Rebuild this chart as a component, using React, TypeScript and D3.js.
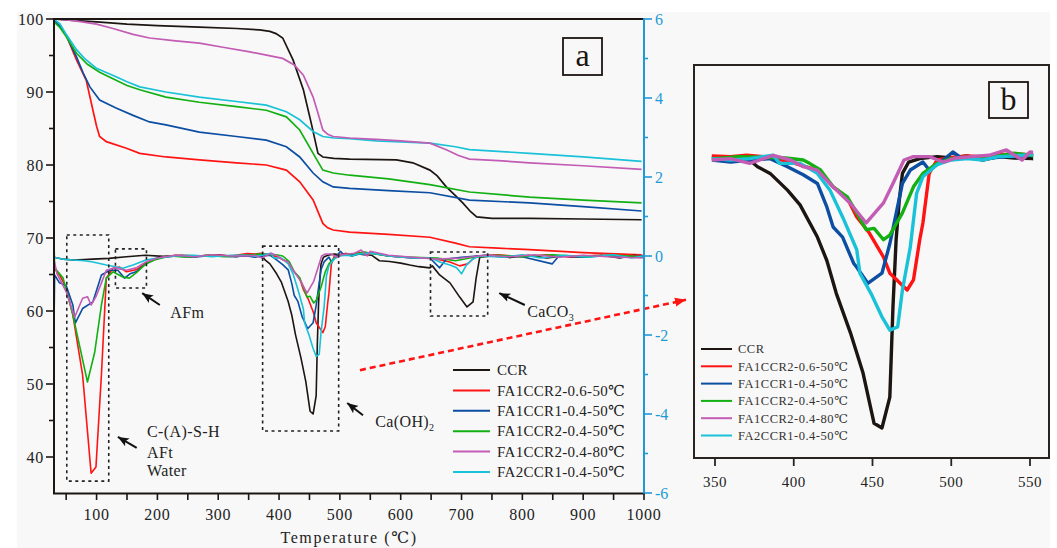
import * as d3 from "d3";

type Pt = [number, number];

// TG curves (mass %, left axis)
const tgCCR: Pt[] = [[30,100],[60,99.8],[100,99.6],[150,99.3],[200,99.1],[269,98.9],[330,98.7],[368,98.5],[385,98.3],[395,98.0],[406,97.4],[423,94.4],[440,90.3],[453,85.7],[464,81.6],[472,81.1],[490,80.9],[516,80.8],[593,80.7],[620,80.3],[648,79.3],[660,78.5],[675,77.0],[690,75.8],[702,74.8],[715,73.6],[725,72.9],[750,72.7],[812,72.7],[900,72.6],[996,72.5]];
const tgR06: Pt[] = [[30,99.8],[40,99.0],[50,97.8],[67,94.4],[83,91.6],[94,87.5],[100,85.3],[105,83.9],[116,83.2],[149,82.3],[171,81.6],[214,81.1],[269,80.7],[330,80.3],[379,80.0],[412,79.3],[434,77.7],[456,75.2],[472,72.0],[480,71.4],[489,71.1],[516,70.8],[580,70.5],[648,70.1],[690,69.3],[713,68.8],[760,68.6],[812,68.4],[900,68.0],[996,67.7]];
const tgB04: Pt[] = [[30,99.8],[40,99.0],[50,97.8],[67,94.8],[78,92.6],[89,90.7],[105,88.9],[132,87.8],[160,86.8],[187,85.9],[214,85.5],[269,84.5],[330,83.9],[379,83.4],[412,82.5],[434,81.1],[456,78.9],[472,77.7],[489,77.0],[516,76.8],[580,76.5],[648,76.2],[713,75.2],[812,74.8],[900,74.3],[996,73.7]];
const tgG04: Pt[] = [[30,99.6],[40,98.8],[50,97.6],[67,95.3],[85,93.8],[105,92.7],[132,91.6],[150,90.9],[171,90.3],[214,89.3],[269,88.6],[330,88.0],[379,87.5],[412,86.6],[434,84.8],[456,81.6],[472,79.3],[489,78.9],[516,78.6],[580,78.1],[648,77.3],[713,76.3],[812,75.6],[900,75.2],[996,74.8]];
const tgM80: Pt[] = [[30,100],[60,99.8],[100,99.3],[127,98.7],[160,97.9],[187,97.4],[230,97.0],[269,96.7],[310,96.1],[352,95.5],[406,94.6],[425,93.7],[440,92.3],[456,89.3],[465,86.8],[472,84.8],[480,84.2],[489,83.9],[516,83.7],[560,83.5],[600,83.3],[648,83.0],[675,82.1],[695,81.3],[713,80.8],[760,80.6],[812,80.3],[900,79.9],[996,79.4]];
const tgC21: Pt[] = [[30,100],[40,99.3],[50,97.9],[67,95.8],[80,94.6],[99,93.3],[115,92.7],[132,92.1],[150,91.4],[171,90.7],[214,90.0],[269,89.3],[330,88.7],[379,88.2],[412,87.3],[434,86.2],[456,84.6],[472,83.9],[490,83.7],[516,83.6],[560,83.3],[648,83.0],[690,82.5],[713,82.1],[812,81.6],[900,81.1],[996,80.5]];

// DTG curves (right axis)
const dtgCCR: Pt[] = [[30,-0.03],[45,-0.08],[61,-0.1],[80,-0.09],[94,-0.08],[120,-0.06],[149,-0.02],[180,0.02],[210,-0.01],[240,0.02],[270,0],[300,0.03],[330,-0.02],[350,0.05],[360,0.03],[372,0],[377,-0.1],[385,-0.2],[396,-0.45],[404,-0.67],[415,-1.15],[421,-1.5],[427,-1.99],[436,-2.58],[444,-3.18],[451,-3.93],[456,-4.0],[461,-3.54],[463,-2.19],[465,-1.19],[467,-0.6],[469,-0.2],[473,-0.03],[480,0.02],[491,0.05],[500,0.03],[510,0.06],[520,0],[530,0.05],[540,0.03],[552,0.02],[565,-0.12],[582,-0.14],[600,-0.18],[615,-0.23],[630,-0.27],[648,-0.3],[652,-0.25],[664,-0.48],[681,-0.68],[697,-1.04],[709,-1.29],[719,-1.16],[724,-0.56],[730,-0.03],[750,0],[780,-0.04],[810,0.02],[840,-0.05],[870,0],[900,-0.03],[930,0.02],[960,-0.05],[985,0.02],[998,-0.03]];
const dtgR06: Pt[] = [[30,-0.3],[39,-0.48],[50,-0.8],[61,-1.49],[77,-3.01],[91,-5.5],[99,-5.34],[108,-3.0],[116,-0.56],[127,-0.31],[138,-0.28],[149,-0.4],[165,-0.35],[181,-0.18],[200,-0.05],[230,0.02],[260,-0.02],[290,0.03],[320,0],[348,0.06],[360,0.05],[370,0.07],[385,0.04],[398,-0.03],[415,-0.15],[425,-0.4],[434,-0.57],[440,-0.85],[448,-1.09],[457,-1.45],[461,-1.69],[472,-1.94],[476,-1.79],[480,-1.19],[482,-0.94],[486,-0.2],[491,0],[500,0.04],[510,0.06],[520,0.05],[530,0.08],[540,0.09],[550,0.08],[580,0],[620,-0.05],[650,-0.05],[681,-0.15],[697,-0.25],[710,-0.2],[724,0],[760,0.03],[800,-0.02],[840,0.03],[880,-0.03],[920,0.02],[960,-0.02],[998,0.02]];
const dtgB04: Pt[] = [[30,-1.82],[31,-0.48],[39,-0.68],[50,-0.75],[61,-1.24],[65,-1.7],[77,-1.33],[94,-1.16],[108,-0.48],[122,-0.36],[135,-0.36],[146,-0.56],[155,-0.45],[165,-0.4],[181,-0.2],[200,-0.05],[230,0],[260,-0.03],[290,0.02],[320,-0.02],[348,0],[360,-0.03],[372,0],[385,0.02],[396,-0.1],[406,-0.22],[415,-0.35],[421,-0.7],[425,-1.0],[431,-1.15],[438,-1.54],[440,-1.6],[447,-1.84],[456,-1.69],[461,-1.25],[469,-0.35],[474,-0.15],[482,-0.03],[486,-0.15],[495,0],[501,0.12],[507,0.02],[515,0.05],[525,0.03],[535,0.05],[545,0.05],[552,0.08],[580,0],[620,-0.05],[648,-0.05],[664,-0.3],[675,-0.08],[700,-0.03],[740,0.02],[800,-0.02],[849,-0.2],[860,0],[900,-0.03],[940,0.02],[970,-0.03],[998,0]];
const dtgG04: Pt[] = [[30,0.4],[31,-0.3],[45,-0.56],[61,-1.49],[85,-3.19],[97,-2.43],[108,-1.24],[116,-0.56],[127,-0.4],[143,-0.53],[154,-0.56],[165,-0.43],[181,-0.2],[195,-0.1],[220,0],[250,-0.03],[280,0.02],[310,-0.02],[340,0.02],[350,0.02],[365,0.05],[380,0.04],[395,0.03],[406,0],[410,-0.05],[417,-0.15],[425,-0.4],[434,-0.55],[440,-0.79],[446,-1.04],[451,-1.02],[457,-1.19],[461,-1.12],[469,-0.79],[476,-0.4],[482,-0.2],[491,-0.05],[500,0.02],[515,0.05],[530,0.06],[540,0.1],[550,0.07],[580,0],[620,-0.03],[660,-0.05],[690,-0.12],[720,-0.03],[760,0.02],[800,-0.02],[850,0.03],[900,-0.02],[950,0.02],[998,-0.02]];
const dtgM80: Pt[] = [[30,-0.1],[35,-0.45],[50,-0.9],[64,-1.55],[77,-1.07],[85,-1.03],[91,-1.24],[99,-1.03],[108,-0.68],[116,-0.36],[130,-0.3],[149,-0.36],[165,-0.3],[181,-0.15],[200,-0.05],[230,0.02],[260,-0.02],[290,0.03],[320,0],[348,0],[360,0.02],[372,-0.05],[387,0.07],[398,0],[406,-0.1],[415,-0.15],[425,-0.4],[436,-0.65],[446,-0.94],[457,-0.64],[463,-0.35],[470,0],[476,0.05],[486,0.05],[495,-0.03],[503,0.03],[513,0.05],[524,0.07],[535,0.15],[545,0],[550,0.12],[580,0.02],[620,-0.03],[660,-0.08],[700,-0.05],[740,0.02],[780,-0.02],[820,0.03],[860,-0.03],[900,0.02],[940,-0.02],[998,-0.05]];
const dtgC21: Pt[] = [[30,-0.03],[45,-0.08],[61,-0.1],[80,-0.12],[94,-0.15],[116,-0.23],[143,-0.31],[160,-0.23],[181,-0.1],[200,-0.05],[230,0],[260,0.02],[290,-0.02],[320,0.02],[348,0.02],[360,0],[372,0.02],[380,0.05],[387,0.07],[391,-0.05],[404,-0.05],[415,-0.2],[423,-0.45],[431,-0.85],[440,-1.34],[442,-1.69],[449,-1.99],[456,-2.34],[461,-2.54],[466,-2.49],[469,-1.94],[474,-1.3],[478,-0.5],[482,-0.25],[491,-0.07],[500,0],[510,0.02],[520,0],[530,0.05],[540,0.06],[550,0.08],[580,0],[620,-0.05],[650,-0.05],[664,-0.15],[681,-0.23],[692,-0.3],[700,-0.45],[708,-0.23],[718,-0.08],[730,0],[770,-0.03],[800,0.03],[830,-0.05],[870,0.02],[910,-0.03],[950,0.03],[980,-0.05],[998,0]];

const seriesNames = ["CCR", "FA1CCR2-0.6-50℃", "FA1CCR1-0.4-50℃", "FA1CCR2-0.4-50℃", "FA1CCR2-0.4-80℃", "FA2CCR1-0.4-50℃"];
const seriesColors = ["#1c1512", "#ff1414", "#0b4ea2", "#12b012", "#c25cb4", "#19c2d8"];
const tgData = [tgCCR, tgR06, tgB04, tgG04, tgM80, tgC21];
const dtgData = [dtgCCR, dtgR06, dtgB04, dtgG04, dtgM80, dtgC21];
const drawOrder = [0, 1, 2, 3, 5, 4];

const leftTicks = [40, 45, 50, 55, 60, 65, 70, 75, 80, 85, 90, 95, 100];
const rightTicks = [-6, -5, -4, -3, -2, -1, 0, 1, 2, 3, 4, 5, 6];
const xTicksA = [50, 100, 150, 200, 250, 300, 350, 400, 450, 500, 550, 600, 650, 700, 750, 800, 850, 900, 950, 1000];
const xTicksB = [350, 400, 450, 500, 550];
const zoomRange = [348, 552];

// annotation boxes in (temperature, DTG) units
const zoneBoxes = [
  { t0: 51, t1: 120, v0: 0.53, v1: -5.7 },
  { t0: 131, t1: 182, v0: 0.18, v1: -0.81 },
  { t0: 373, t1: 498, v0: 0.25, v1: -4.43 },
  { t0: 649, t1: 743, v0: 0.1, v1: -1.52 },
];
const zoneArrows = [
  { from: [204, -1.24], to: [175, -0.94] },
  { from: [166, -4.86], to: [135, -4.58] },
  { from: [538, -4.03], to: [512, -3.72] },
  { from: [804, -1.24], to: [762, -0.94] },
];

const FONT = "'Liberation Serif','Times New Roman','DejaVu Serif',serif";
const BLUE = "#1e9ad6";

export default function App() {
  const xA = d3.scaleLinear().domain([30, 1000]).range([54, 644]);
  const yL = d3.scaleLinear().domain([35, 100]).range([493.5, 19]);
  const yR = d3.scaleLinear().domain([-6, 6]).range([493, 19]);
  const xB = d3.scaleLinear().domain([350, 550]).range([715, 1030]);
  const yB = d3.scaleLinear().domain([-4, 0]).range([428, 160]);

  const lineTG = d3.line<Pt>().x((d) => xA(d[0])).y((d) => yL(d[1]));
  const lineDTG = d3.line<Pt>().x((d) => xA(d[0])).y((d) => yR(d[1]));
  const lineB = d3.line<Pt>().x((d) => xB(d[0])).y((d) => yB(d[1]));

  const bx0 = 694, bx1 = 1049, by0 = 65, by1 = 458;
  const cx0 = xB(zoomRange[0]), cx1 = xB(zoomRange[1]);

  return (
    <svg width={1057} height={548} style={{ position: "absolute", left: 0, top: 0, fontFamily: FONT }}>
      <defs>
        <marker id="ah" markerUnits="userSpaceOnUse" markerWidth="12" markerHeight="10" refX="11" refY="5" orient="auto">
          <path d="M0,0.5 L11,5 L0,9.5 L2.5,5 z" fill="#111" />
        </marker>
        <marker id="ahr" markerUnits="userSpaceOnUse" markerWidth="12" markerHeight="10" refX="11" refY="5" orient="auto">
          <path d="M0,0.5 L11,5 L0,9.5 z" fill="#ff1414" />
        </marker>
        <clipPath id="clipA"><rect x={54} y={19} width={590} height={474} /></clipPath>
        <clipPath id="clipB"><rect x={cx0} y={by0 + 1} width={cx1 - cx0} height={by1 - by0 - 2} /></clipPath>
      </defs>
      <rect x={0} y={0} width={1057} height={548} fill="#fff" />
      <rect x={17} y={12} width={1033} height={536} fill="#f8f8f8" />

      {/* panel a curves */}
      <g clipPath="url(#clipA)" fill="none">
        {drawOrder.map((i) => (
          <path key={"tg" + i} d={lineTG(tgData[i]) ?? ""} stroke={seriesColors[i]} strokeWidth={1.7} />
        ))}
        {drawOrder.map((i) => (
          <path key={"dtg" + i} d={lineDTG(dtgData[i]) ?? ""} stroke={seriesColors[i]} strokeWidth={1.6} strokeLinejoin="round" />
        ))}
      </g>

      {/* dashed zone boxes */}
      {zoneBoxes.map((b, i) => (
        <rect key={i} x={xA(b.t0)} y={yR(b.v0)} width={xA(b.t1) - xA(b.t0)} height={yR(b.v1) - yR(b.v0)}
          fill="none" stroke="#222" strokeWidth={1.6} strokeDasharray="3,3.5" />
      ))}
      {zoneArrows.map((a, i) => (
        <line key={i} x1={xA(a.from[0])} y1={yR(a.from[1])} x2={xA(a.to[0])} y2={yR(a.to[1])}
          stroke="#111" strokeWidth={2} markerEnd="url(#ah)" />
      ))}
      <g fontSize={16} fill="#222" letterSpacing={0.4}>
        <text x={xA(221)} y={yR(-1.57)}>AFm</text>
        <text x={xA(183)} y={yR(-4.58)}>C-(A)-S-H</text>
        <text x={xA(183)} y={yR(-5.12)}>AFt</text>
        <text x={xA(183)} y={yR(-5.58)}>Water</text>
        <text x={xA(558)} y={yR(-4.33)}>Ca(OH)<tspan fontSize={10} dy={4}>2</tspan></text>
        <text x={xA(808)} y={yR(-1.54)}>CaCO<tspan fontSize={10} dy={4}>3</tspan></text>
      </g>

      {/* red connector to panel b */}
      <line x1={xA(533)} y1={yR(-2.89)} x2={xA(1069)} y2={yR(-1.11)} stroke="#ff1414" strokeWidth={2.6}
        strokeDasharray="6,4" markerEnd="url(#ahr)" />

      {/* panel a frame & axes */}
      <line x1={54} x2={644} y1={19} y2={19} stroke="#1c1512" strokeWidth={2} />
      <line x1={54} x2={54} y1={18} y2={494} stroke="#1c1512" strokeWidth={2} />
      <line x1={53} x2={645} y1={493.5} y2={493.5} stroke="#1c1512" strokeWidth={2} />
      <line x1={644} x2={644} y1={18} y2={494} stroke={BLUE} strokeWidth={2} />
      {leftTicks.map((t) => (
        <g key={t}>
          <line x1={t % 10 === 0 ? 46 : 49} x2={54} y1={yL(t)} y2={yL(t)} stroke="#1c1512" strokeWidth={1.6} />
          {t % 10 === 0 && (
            <text x={44} y={yL(t)} dy="0.35em" textAnchor="end" fontSize={16} letterSpacing={0.7} fill="#222">{t}</text>
          )}
        </g>
      ))}
      {rightTicks.map((t) => (
        <g key={t}>
          <line x1={644} x2={t % 2 === 0 ? 652 : 648} y1={yR(t)} y2={yR(t)} stroke={BLUE} strokeWidth={1.6} />
          {t % 2 === 0 && (
            <text x={655} y={yR(t)} dy="0.35em" fontSize={16} fill={BLUE}>{t}</text>
          )}
        </g>
      ))}
      {xTicksA.map((t) => (
        <g key={t}>
          <line x1={xA(t)} x2={xA(t)} y1={493.5} y2={500} stroke="#1c1512" strokeWidth={1.6} />
          {t % 100 === 0 && (
            <text x={xA(t)} y={520} textAnchor="middle" fontSize={16} letterSpacing={0.7} fill="#222">{t}</text>
          )}
        </g>
      ))}
      <text x={xA(515)} y={543} textAnchor="middle" fontSize={16} letterSpacing={1.6} fill="#222">Temperature (℃)</text>

      {/* panel a label */}
      <rect x={563} y={38} width={39} height={37} fill="none" stroke="#1c1512" strokeWidth={1.8} />
      <text x={582.5} y={66} textAnchor="middle" fontSize={32} fill="#1c1512">a</text>

      {/* panel a legend */}
      {seriesNames.map((n, i) => (
        <g key={n}>
          <line x1={453} x2={490} y1={370 + i * 20.4} y2={370 + i * 20.4} stroke={seriesColors[i]} strokeWidth={2} />
          <text x={497} y={370 + i * 20.4} dy="0.35em" fontSize={15} letterSpacing={0.3} fill="#222">{n}</text>
        </g>
      ))}

      {/* panel b */}
      <g clipPath="url(#clipB)" fill="none">
        {drawOrder.map((i) => (
          <path key={"b" + i} d={lineB(dtgData[i]) ?? ""} stroke={seriesColors[i]} strokeWidth={3.4} strokeLinejoin="round" />
        ))}
      </g>
      <rect x={bx0} y={by0} width={bx1 - bx0} height={by1 - by0} fill="none" stroke="#2a2420" strokeWidth={2} />
      {xTicksB.map((t) => (
        <g key={t}>
          <line x1={xB(t)} x2={xB(t)} y1={by1} y2={by1 + 8} stroke="#2a2420" strokeWidth={1.8} />
          <text x={xB(t)} y={487} textAnchor="middle" fontSize={15} letterSpacing={0.5} fill="#222">{t}</text>
        </g>
      ))}
      <rect x={989} y={82} width={39} height={36} fill="none" stroke="#1c1512" strokeWidth={1.8} />
      <text x={1008.5} y={110} textAnchor="middle" fontSize={32} fill="#1c1512">b</text>
      {seriesNames.map((n, i) => (
        <g key={"lb" + n}>
          <line x1={701} x2={732} y1={349 + i * 17.3} y2={349 + i * 17.3} stroke={seriesColors[i]} strokeWidth={2} />
          <text x={738} y={349 + i * 17.3} dy="0.35em" fontSize={12.5} letterSpacing={0.5} fill="#333">{n}</text>
        </g>
      ))}
    </svg>
  );
}
